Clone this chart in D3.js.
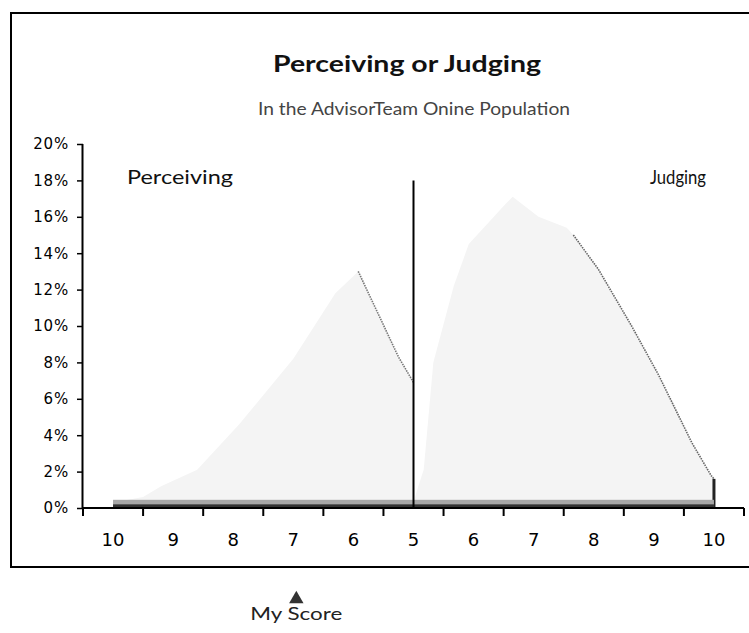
<!DOCTYPE html>
<html>
<head>
<meta charset="utf-8">
<script src="https://cdn.jsdelivr.net/npm/d3@7"></script>
<style>
  html, body { margin: 0; padding: 0; background: #fff; }
  svg { display: block; }
</style>
</head>
<body>
<svg id="chart" width="749" height="633"></svg>
<script>
// ---------- data ----------
// Score position: -5 = "10" Perceiving ... 0 = "5" ... +5 = "10" Judging
const xTickLabels = ["10", "9", "8", "7", "6", "5", "6", "7", "8", "9", "10"];
const xTickPositions = [-5, -4, -3, -2, -1, 0, 1, 2, 3, 4, 5];
const yTicks = [0, 2, 4, 6, 8, 10, 12, 14, 16, 18, 20];

const perceivingPos = [-5, -4.5, -4.2, -3.6, -2.9, -2.0, -1.3, -0.92, -0.25, 0];
const perceivingPct = [0.3, 0.6, 1.2, 2.1, 4.6, 8.2, 11.8, 13.0, 8.3, 6.9];

const judgingPos = [0, 0.08, 0.17, 0.33, 0.67, 0.92, 1.28, 1.5, 1.65, 2.08, 2.55, 2.66, 3.08, 3.63, 4.08, 4.63, 4.95, 5.0, 5.0];
const judgingPct = [0.3, 1.2, 2.1, 8.0, 12.2, 14.5, 15.8, 16.6, 17.1, 16.0, 15.4, 15.0, 13.1, 10.0, 7.3, 3.6, 1.8, 1.6, 0];

const judgingEdgeFrom = 2.66;     // where the visible falling edge starts
const baseBandOuter = 0.45;       // dense grey band along the base
const baseBandInner = 0.2;
const dividerTop = 18;            // vertical divider height (percent)
const myScorePos = -2;            // "My Score" marker (7 Perceiving)

const titleText = "Perceiving or Judging";
const subtitleText = "In the AdvisorTeam Onine Population";

// ---------- layout ----------
const svg = d3.select("#chart");
const x = d3.scaleLinear().domain([-5.5, 5.5]).range([83, 744]);
const y = d3.scaleLinear().domain([0, 20]).range([508, 144]);

const humanist = "Lato, 'Open Sans', 'Noto Sans', sans-serif";
const axisFont = "'DejaVu Sans', 'Liberation Sans', sans-serif";

// frame (right side runs off the picture)
svg.append("rect")
  .attr("x", 11).attr("y", 13).attr("width", 760).attr("height", 554)
  .attr("fill", "none").attr("stroke", "#000").attr("stroke-width", 2);

// title & subtitle
svg.append("text")
  .attr("x", 407).attr("y", 72)
  .attr("text-anchor", "middle")
  .attr("font-family", humanist).attr("font-weight", "bold")
  .attr("font-size", 23).attr("fill", "#111")
  .attr("textLength", 268).attr("lengthAdjust", "spacingAndGlyphs")
  .text(titleText);

svg.append("text")
  .attr("x", 414).attr("y", 115)
  .attr("text-anchor", "middle")
  .attr("font-family", humanist)
  .attr("font-size", 18).attr("fill", "#444")
  .attr("textLength", 312).attr("lengthAdjust", "spacingAndGlyphs")
  .text(subtitleText);

// areas
const pts = (xs, ys) => xs.map((p, i) => ({ p, v: ys[i] }));
const perceiving = pts(perceivingPos, perceivingPct);
const judging = pts(judgingPos, judgingPct);

const area = d3.area()
  .x(d => x(d.p)).y0(y(0)).y1(d => y(d.v));
const line = d3.line().x(d => x(d.p)).y(d => y(d.v));

[perceiving, judging].forEach(data => {
  svg.append("path").datum(data)
    .attr("d", area)
    .attr("fill", "#f4f4f4");
});

// falling edges (dotted grey)
const pPeak = d3.maxIndex(perceivingPct);
svg.append("path").datum(perceiving.slice(pPeak))
  .attr("d", line).attr("fill", "none")
  .attr("stroke", "#777").attr("stroke-width", 1.6)
  .attr("stroke-dasharray", "1.5,1");
svg.append("path").datum(judging.filter(d => d.p >= judgingEdgeFrom))
  .attr("d", line).attr("fill", "none")
  .attr("stroke", "#666").attr("stroke-width", 1.6)
  .attr("stroke-dasharray", "1.5,1");
svg.append("path").datum(judging.filter(d => d.p >= judgingPos[judgingPos.length - 2]))
  .attr("d", line).attr("fill", "none")
  .attr("stroke", "#222").attr("stroke-width", 3);

// base band
const first = perceivingPos[0], last = judgingPos[judgingPos.length - 1];
svg.append("rect")
  .attr("x", x(first)).attr("width", x(last) - x(first))
  .attr("y", y(baseBandOuter)).attr("height", y(0) - y(baseBandOuter))
  .attr("fill", "#a8a8a8");
svg.append("rect")
  .attr("x", x(first)).attr("width", x(last) - x(first))
  .attr("y", y(baseBandInner)).attr("height", y(0) - y(baseBandInner))
  .attr("fill", "#333");

// divider
svg.append("line")
  .attr("x1", x(0)).attr("x2", x(0))
  .attr("y1", y(dividerTop)).attr("y2", y(0))
  .attr("stroke", "#000").attr("stroke-width", 2);

// y axis
const yAxis = svg.append("g").attr("transform", `translate(${x(-5.5)},0)`)
  .call(d3.axisLeft(y).tickValues(yTicks).tickFormat(d => d + "%").tickSize(6).tickPadding(8));
yAxis.select(".domain").attr("stroke", "#000").attr("stroke-width", 2).attr("d", `M-0.5,${y(20)}V${y(0)}`);
yAxis.selectAll(".tick line").attr("stroke", "#000").attr("stroke-width", 1.5);
yAxis.selectAll(".tick text")
  .attr("font-family", axisFont).attr("font-size", 15)
  .attr("letter-spacing", 0.8).attr("fill", "#000");

// x axis: ticks at category boundaries, labels at centres
const boundaries = d3.range(xTickPositions.length + 1).map(i => xTickPositions[0] - 0.5 + i);
const xAxis = svg.append("g").attr("transform", `translate(0,${y(0)})`);
xAxis.append("line")
  .attr("x1", x(boundaries[0])).attr("x2", x(boundaries[boundaries.length - 1]))
  .attr("stroke", "#000").attr("stroke-width", 2);
xAxis.selectAll("line.tk").data(boundaries).join("line").attr("class", "tk")
  .attr("x1", d => x(d)).attr("x2", d => x(d))
  .attr("y1", 0).attr("y2", 8)
  .attr("stroke", "#000").attr("stroke-width", 2);
xAxis.selectAll("text").data(xTickPositions).join("text")
  .attr("x", d => x(d)).attr("y", 38)
  .attr("text-anchor", "middle")
  .attr("font-family", axisFont).attr("font-size", 18).attr("fill", "#000")
  .text((d, i) => xTickLabels[i]);

// side labels
svg.append("text")
  .attr("x", 127).attr("y", 184)
  .attr("font-family", humanist).attr("font-size", 19).attr("fill", "#111")
  .attr("textLength", 106).attr("lengthAdjust", "spacingAndGlyphs")
  .text("Perceiving");
svg.append("text")
  .attr("x", 706).attr("y", 184).attr("text-anchor", "end")
  .attr("font-family", humanist).attr("font-size", 19).attr("fill", "#111")
  .attr("textLength", 56).attr("lengthAdjust", "spacingAndGlyphs")
  .text("Judging");

// My Score marker
const mx = x(myScorePos);
svg.append("path")
  .attr("d", d3.symbol(d3.symbolTriangle, 90)())
  .attr("transform", `translate(${mx + 3},599)`)
  .attr("fill", "#333");
svg.append("text")
  .attr("x", mx + 3).attr("y", 620).attr("text-anchor", "middle")
  .attr("font-family", humanist).attr("font-size", 17).attr("fill", "#222")
  .attr("textLength", 92).attr("lengthAdjust", "spacingAndGlyphs")
  .text("My Score");
</script>
</body>
</html>
